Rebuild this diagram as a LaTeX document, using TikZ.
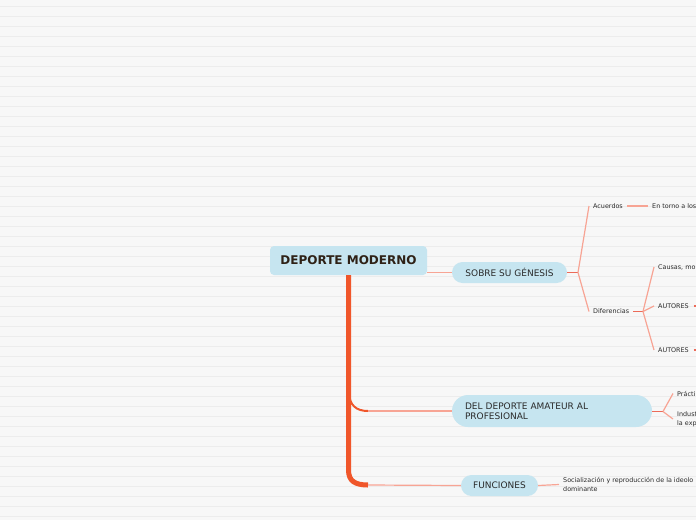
\documentclass[tikz,border=0pt]{standalone}
\usepackage{fontspec}
\setmainfont{DejaVu Sans}
\definecolor{bg}{HTML}{F7F7F7}
\definecolor{gridc}{HTML}{ECECEC}
\definecolor{nodeblue}{HTML}{C6E5F0}
\definecolor{spinec}{HTML}{F0562A}
\definecolor{thinc}{HTML}{F7A494}
\definecolor{darkc}{HTML}{EC6A58}
\definecolor{txt}{HTML}{2A2A2A}
\definecolor{titlec}{HTML}{2E2116}
\tikzset{
  rootbox/.style={fill=nodeblue, rounded corners=4pt, minimum width=157pt, minimum height=29pt, inner sep=0pt, text=titlec, font=\fontsize{12}{14}\selectfont\bfseries},
  pill/.style={fill=nodeblue, rounded corners=10.5pt, minimum height=21pt, inner sep=0pt, text=txt, font=\fontsize{9}{10.5}\selectfont},
  leaf/.style={inner ysep=0pt, inner xsep=4pt, text=txt, anchor=west, align=left, font=\fontsize{6.4}{8.5}\selectfont},
  thinline/.style={thinc, line width=1.2pt},
  darkline/.style={darkc, line width=1.6pt},
}
\begin{document}
\begin{tikzpicture}[x=1pt,y=-1pt]
\useasboundingbox (0,0) rectangle (696,520);
\clip (0,0) rectangle (696,520);
\fill[bg] (0,0) rectangle (696,520);
\foreach \y in {6,16,...,516} \draw[gridc, line width=1pt] (0,\y) -- (696,\y);

% main nodes
\node[rootbox] (root) at (348.5,260.5) {DEPORTE MODERNO};
\node[pill, minimum width=115pt] (sobre) at (509.5,272.5) {SOBRE SU GÉNESIS};
\node[pill, minimum width=200pt, minimum height=32pt, rounded corners=16pt, text width=174pt, align=left] (del) at (552,411) {DEL DEPORTE AMATEUR AL\\PROFESIONAL};
\node[pill, minimum width=77pt] (fun) at (499.5,485.5) {FUNCIONES};

% leaves
\node[leaf] (acu) at (589,206) {Acuerdos};
\node[leaf] (entorno) at (648,206) {En torno a los};
\node[leaf] (dif) at (589,311.5) {Diferencias};
\node[leaf] (causas) at (654,267) {Causas, mo};
\node[leaf] (aut1) at (654,306) {AUTORES};
\node[leaf] (aut2) at (654,350) {AUTORES};
\node[leaf] (prac) at (673,393.5) {Prácti};
\node[leaf] (indu) at (673,419) {Indust\\la exp};
\node[leaf] (soc) at (559,484.5) {Socialización y reproducción de la ideolo\\dominante};

% spine
\draw[spinec, line width=5pt] (root.south) -- (348.5,470) .. controls (348.5,481) and (355,485) .. (368,485);
\draw[spinec, line width=2pt] (349,393) .. controls (349.5,405) and (356,411) .. (368,411);
\coordinate (b2) at (368,411);
\coordinate (b3) at (368,485);
\draw[thinline] (b2) -- (del.west);
\draw[thinline] (b3) -- (fun.west);
\draw[thinline] (root.east |- sobre.west) -- (sobre.west);

% sobre branch
\coordinate (f1) at (578,272.5);
\draw[darkline] (sobre.east) -- (f1);
\draw[thinline] (f1) -- (acu.west);
\draw[thinline] (f1) -- (dif.west);
\draw[thinline] (acu.east) -- (entorno.west);
\coordinate (f2) at (643,311.5);
\draw[darkline] (dif.east) -- (f2);
\draw[thinline] (f2) -- (causas.west);
\draw[thinline] (f2) -- (aut1.west);
\draw[thinline] (f2) -- (aut2.west);
\draw[darkline] ([xshift=1pt]aut1.east) -- ++(12,0);
\draw[darkline] ([xshift=1pt]aut2.east) -- ++(12,0);

% del branch
\coordinate (f3) at (663,411.5);
\draw[darkline] (del.east |- f3) -- (f3);
\draw[thinline] (f3) -- (prac.west);
\draw[thinline] (f3) -- (indu.west);

% funciones branch
\draw[thinline] (fun.east) -- (soc.west);
\end{tikzpicture}
\end{document}
